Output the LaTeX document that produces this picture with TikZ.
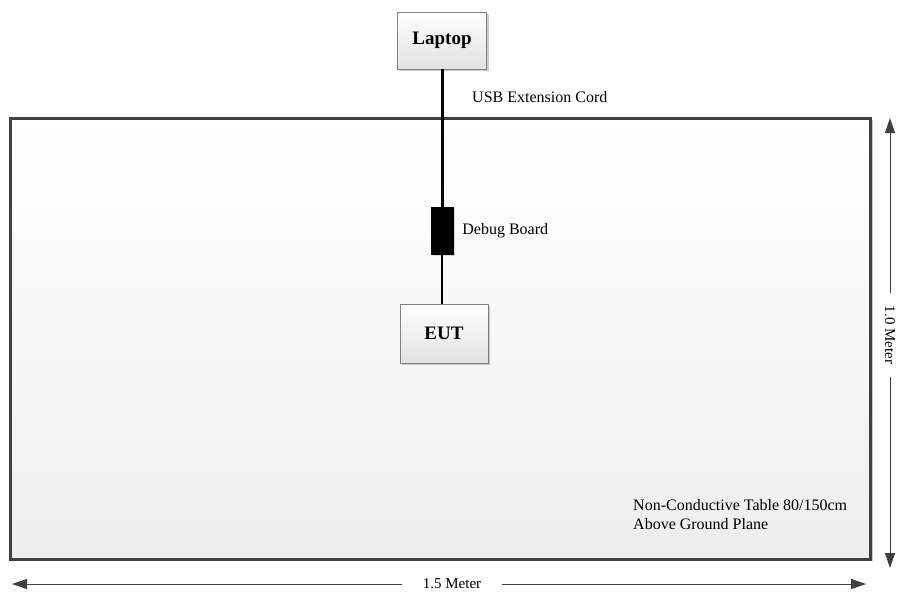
\documentclass[tikz,border=0pt]{standalone}
\usepackage{fontspec}
\setmainfont{Liberation Serif}
\usetikzlibrary{arrows.meta, positioning, shadows}
\definecolor{edge}{HTML}{404040}
\definecolor{boxline}{HTML}{808080}
\definecolor{boxfill}{HTML}{e2e2e2}
\definecolor{tablefill}{HTML}{eeeeee}

\tikzset{
  unit/.style={draw=boxline, line width=0.8pt, top color=white, bottom color=boxfill,
    drop shadow={shadow xshift=2pt, shadow yshift=-2pt, opacity=0.4},
    font=\fontsize{19}{22}\selectfont\bfseries, inner sep=0pt},
  lbl/.style={font=\fontsize{16}{19}\selectfont, inner sep=0pt},
  dimlbl/.style={font=\fontsize{15}{18}\selectfont, inner ysep=0pt},
  dim/.style={draw=edge, line width=0.8pt, -{Triangle[length=15pt,width=10pt]}},
  cord/.style={line width=3pt},
}

\begin{document}
\begin{tikzpicture}[x=1pt, y=-1pt]
  \useasboundingbox (0,0) rectangle (901,595);

  % Table
  \node[draw=edge, line width=3pt, top color=white, bottom color=tablefill,
        drop shadow={shadow xshift=2pt, shadow yshift=-2pt, opacity=0.4},
        minimum width=860pt, minimum height=441pt, inner sep=0pt] (table) at (440.5,338.5) {};
  \node[lbl, anchor=west, align=left] (tabletext) at (633,514.5)
    {Non-Conductive Table 80/150cm\\Above Ground Plane};

  % Laptop and cord
  \node[unit, minimum width=89pt, minimum height=57pt] (laptop) at (442,40.5) {Laptop};
  \node[fill=black, draw=black, minimum width=22pt, minimum height=47pt, inner sep=0pt,
        drop shadow={shadow xshift=2pt, shadow yshift=-2pt, opacity=0.3}] (debug) at (442,230.5) {};
  \draw[cord] (laptop.south) -- (debug.north);
  \node[lbl, anchor=west] (cordtext) at (472,97) {USB Extension Cord};
  \node[lbl, right=9pt of debug] (debugtext) {Debug Board};

  % EUT
  \node[unit, minimum width=88pt, minimum height=59pt] (eut) at (444,333.5) {EUT};
  \draw[line width=1.2pt] (debug.south) -- (debug.south |- eut.north);

  % Dimensions
  \coordinate (wleft) at (12,584);
  \coordinate (wright) at (866,584);
  \node[dimlbl, inner xsep=21pt] (wlabel) at (452,584) {1.5 Meter};
  \draw[dim] (wlabel) -- (wleft);
  \draw[dim] (wlabel) -- (wright);

  \coordinate (htop) at (890,118);
  \coordinate (hbot) at (890,568);
  \node[dimlbl, inner xsep=13pt, rotate=-90] (hlabel) at (890,335) {1.0 Meter};
  \draw[dim] (hlabel) -- (htop);
  \draw[dim] (hlabel) -- (hbot);
\end{tikzpicture}
\end{document}
